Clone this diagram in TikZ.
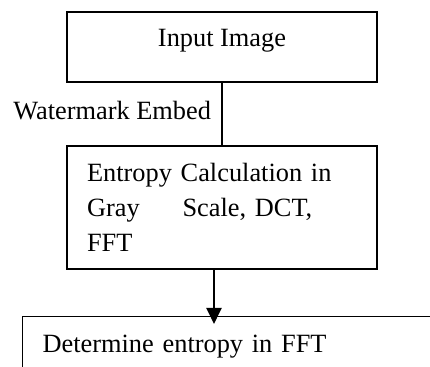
\documentclass[tikz,border=0pt]{standalone}
\usepackage{fontspec}
\setmainfont{Liberation Serif}
\usetikzlibrary{arrows.meta,positioning}
\newcommand{\pxUnit}{0.016cm}
\newcommand{\boxWidth}{4.96cm}
\newcommand{\boxPad}{0.32cm}
\newcommand{\flowFont}{\fontsize{12}{16}\selectfont}

\begin{document}
\begin{tikzpicture}[x=\pxUnit, y=-\pxUnit, font=\flowFont,
    stagebox/.style={draw, line width=0.6pt, minimum width=\boxWidth, inner xsep=\boxPad},
    flowline/.style={line width=1pt}]
\clip (0,0) rectangle (430,367);
\node (inputbox) [stagebox, minimum height=1.12cm, text height=8pt, text depth=8pt] at (222,47) {Input Image};
\node (entropybox) [stagebox, minimum height=1.968cm, text width=4.32cm, align=left] at (222,207.5)
      {Entropy Calculation in\\ Gray\hspace{19.5pt}Scale, DCT,\\ FFT};
\node (fftbox) [stagebox, anchor=north west, minimum width=6.88cm, minimum height=0.96cm,
      text width=6.24cm, align=left] at (22,316) {Determine entropy in FFT};
\draw [flowline] (inputbox) -- node (embedlabel) [left, pos=0.45, inner xsep=4.5pt] {Watermark Embed} (entropybox);
\coordinate (arrowtip) at (214,324);
\draw [flowline, -{Triangle[length=7.3pt, width=6.8pt]}] (entropybox.south -| arrowtip) -- (arrowtip);
\end{tikzpicture}
\end{document}
